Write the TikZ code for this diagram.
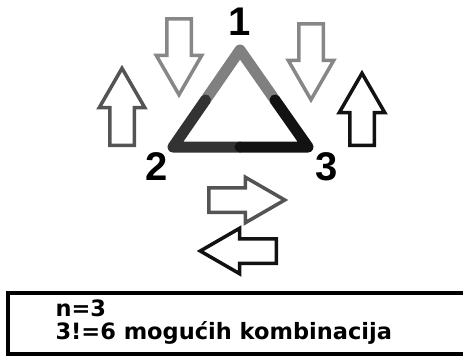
\documentclass[tikz,border=0pt]{standalone}
\usepackage{fontspec}
\setmainfont{Liberation Sans}
\newfontfamily\wide{DejaVu Sans}
\usetikzlibrary{shapes.arrows}

\begin{document}
\begin{tikzpicture}[x=1pt,y=-1pt,
    blockarrow/.style={single arrow, draw, line width=3.5pt, inner sep=0pt,
        inner ysep=10.5pt, minimum height=76pt, single arrow head extend=10.5pt,
        single arrow tip angle=60, anchor=tail},
    side/.style={line width=11pt, line join=round, line cap=round},
    num/.style={font=\fontsize{40}{40}\selectfont\bfseries}]
   \useasboundingbox (0,0) rectangle (463,356);

   % triangle corners
   \coordinate (top) at (240,50);
   \coordinate (left) at (173,147);
   \coordinate (right) at (308,147);
   \coordinate (lmid) at (205.5,100);
   \coordinate (rmid) at (275,100);
   \coordinate (bmid) at (240,147);
   \draw[side, color=black!50] (lmid) -- (top) -- (rmid);
   \draw[side, color=black!80] (lmid) -- (left) -- (bmid);
   \draw[side, color=black!93] (bmid) -- (right) -- (rmid);

   % corner labels
   \node[num] (n1) at (240,22) {1};
   \node[num] (n2) at (157,167) {2};
   \node[num] (n3) at (327,167) {3};

   % arrows around the triangle
   \node[blockarrow, color=black!47, rotate=-90] (downl) at (179,17) {};
   \node[blockarrow, color=black!47, rotate=-90] (downr) at (311,22) {};
   \node[blockarrow, color=black!67, rotate=90, minimum height=77pt] (upl) at (122,147) {};
   \node[blockarrow, color=black!93, rotate=90, minimum height=72pt] (upr) at (362,147) {};
   \node[blockarrow, color=black!67] (rightarr) at (207,200) {};
   \node[blockarrow, color=black!93, rotate=180] (leftarr) at (278,251) {};

   % box with the count
   \draw[line width=3.5pt] (8,293) rectangle (470,354);
   \node[anchor=west, font=\wide\bfseries\fontsize{22.5}{22.5}\selectfont] (cnt) at (52,308) {n=3};
   \node[anchor=west, font=\wide\bfseries\fontsize{22.5}{22.5}\selectfont] (comb) at (52,333) {3!=6 mogućih kombinacija};
\end{tikzpicture}
\end{document}
